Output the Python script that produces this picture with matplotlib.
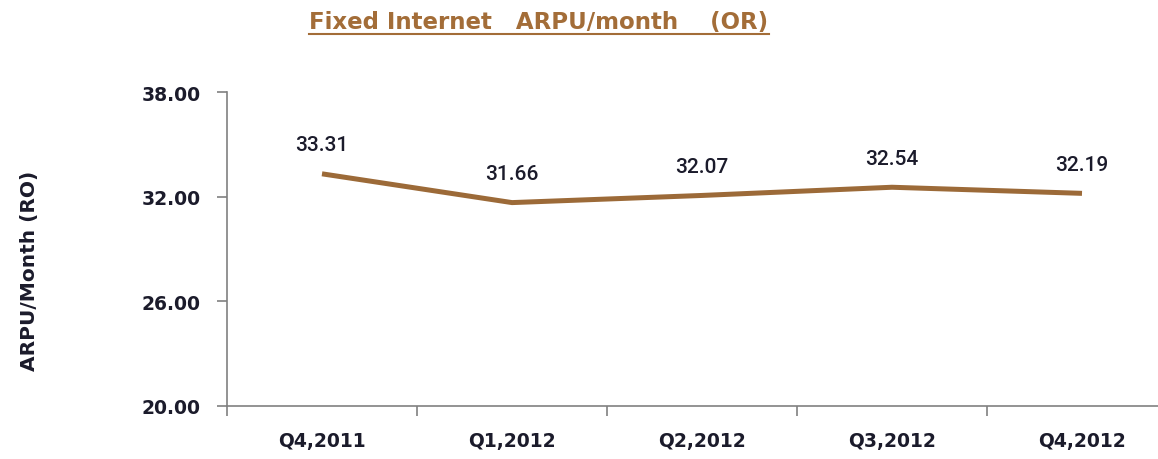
import numpy as np
import matplotlib.pyplot as plt
from matplotlib.lines import Line2D

quarters = ['Q4,2011', 'Q1,2012', 'Q2,2012', 'Q3,2012', 'Q4,2012']
arpu = [33.31, 31.66, 32.07, 32.54, 32.19]
yticks = [20, 26, 32, 38]

line_col = '#9c6a38'
title_col = '#a36d38'
text_col = '#1b1b2b'

plt.rcParams['font.family'] = ['DejaVu Sans']

fig = plt.figure(figsize=(11.58, 4.60), dpi=100)
ax = fig.add_axes([227/1158, 1-407/460, 1-227/1158, (407-93)/460])

x = np.arange(len(quarters))
ax.plot(x, arpu, color=line_col, lw=3.6, solid_capstyle='butt')
for xi, v in zip(x, arpu):
    ax.annotate('%.2f' % v, (xi, v), xytext=(0, 14), textcoords='offset points',
                ha='center', va='bottom', fontsize=15, color=text_col,
                family='Roboto', fontweight='medium')

ax.set_ylim(20, 38)
ax.set_xlim(-0.5, 4.4)
ax.set_yticks(yticks)
ax.set_yticklabels(['%.2f' % t for t in yticks], fontsize=13.5, fontweight='bold', color=text_col)
ax.set_xticks(x)
ax.set_xticklabels(quarters, fontsize=13.5, fontweight='bold', color=text_col)
ax.tick_params(axis='x', length=0, pad=18)
ax.set_xticks(np.arange(-0.5, 4.5, 1), minor=True)
ax.tick_params(axis='x', which='minor', length=7, width=1.2, color='#808080')
ax.tick_params(axis='y', length=7, width=1.2, color='#808080', pad=12)

for s in ['top', 'right']:
    ax.spines[s].set_visible(False)
for s in ['left', 'bottom']:
    ax.spines[s].set_color('#808080')
    ax.spines[s].set_linewidth(1.2)

fig.text(30/1158, 1-271/460, 'ARPU/Month (RO)', rotation=90, ha='center', va='center',
         fontsize=14.5, fontweight='bold', color=text_col)

title = fig.text(539/1158, 1-23/460, 'Fixed Internet   ARPU/month    (OR)', ha='center', va='center',
                 fontsize=16.5, fontweight='bold', color=title_col)
fig.canvas.draw()
bb = title.get_window_extent().transformed(fig.transFigure.inverted())
fig.add_artist(Line2D([bb.x0, bb.x1], [bb.y0 - 0.002, bb.y0 - 0.002], transform=fig.transFigure,
                      color=title_col, lw=1.5))

fig.savefig('out.png', dpi=100)
